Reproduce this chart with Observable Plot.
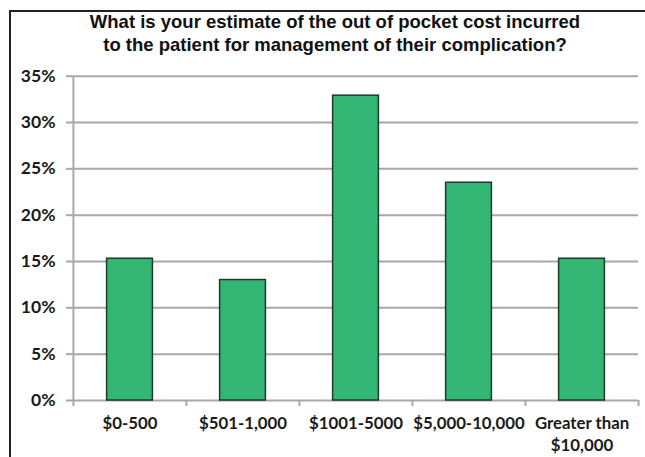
<!DOCTYPE html>
<html><head><meta charset="utf-8">
<script src="https://cdn.jsdelivr.net/npm/d3@7"></script>
<script src="https://cdn.jsdelivr.net/npm/@observablehq/plot@0.6"></script>
<style>
html,body{margin:0;padding:0;background:#fff;}
#wrap{position:relative;width:645px;height:457px;overflow:hidden;background:#fff;}
#frame{position:absolute;left:9px;top:10px;width:700px;height:500px;border-left:2px solid #222;border-top:2px solid #222;}
#title{position:absolute;left:0;top:10px;width:670px;text-align:center;font:bold 18.5px "Liberation Sans",Arial,sans-serif;line-height:23px;color:#111;}
#chart{position:absolute;left:0;top:60px;}
</style></head><body>
<div id="wrap"><div id="frame"></div><div id="title">What is your estimate of the out of pocket cost incurred<br>to the patient for management of their complication?</div><div id="chart"></div></div>
<script>
const categories = ["$0-500", "$501-1,000", "$1001-5000", "$5,000-10,000", "Greater than\n$10,000"];
const values = [0.153, 0.130, 0.329, 0.235, 0.153];
const yTicks = [0, 0.05, 0.10, 0.15, 0.20, 0.25, 0.30, 0.35];

const data = categories.map((c, i) => ({cat: c, value: values[i]}));
const W = 645, H = 397, ML = 72, MR = 7, MT = 15.7, MB = 57;
const bw = (W - ML - MR) / categories.length;
const font = "Lato, 'Open Sans', sans-serif";

const chart = Plot.plot({
  width: W, height: H,
  marginLeft: ML, marginRight: MR, marginTop: MT, marginBottom: MB,
  style: {fontFamily: font, background: "transparent"},
  x: {type: "band", domain: categories, padding: 0, axis: null},
  y: {domain: [0, 0.35], axis: null},
  marks: [
    Plot.ruleY(yTicks, {stroke: "#a8a8a8", strokeWidth: 2}),
    Plot.ruleX([categories[0]], {x: d => d, dx: -bw / 2, y1: 0, y2: 0.35, stroke: "#a8a8a8", strokeWidth: 2}),
    Plot.ruleX(categories, {x: d => d, dx: -bw / 2, y1: 0, y2: 0, dy: 3, insetTop: -3, insetBottom: -3, stroke: "#a8a8a8", strokeWidth: 2}),
    Plot.ruleX([categories[categories.length - 1]], {x: d => d, dx: bw / 2, y1: 0, y2: 0, dy: 3, insetTop: -3, insetBottom: -3, stroke: "#a8a8a8", strokeWidth: 2}),
    Plot.axisY({ticks: yTicks, tickFormat: d3.format(".0%"), label: null, tickSize: 6, tickPadding: 11, stroke: "#a8a8a8", fill: "#1a1a1a", strokeWidth: 2, fontSize: 17.5, fontWeight: "bold", fontFamily: font}),
    Plot.barY(data, {x: "cat", y: "value", fill: "#33b673", stroke: "#1e3a28", strokeWidth: 1.5, insetLeft: 33.6, insetRight: 33.6}),
    Plot.axisX({label: null, tickSize: 0, tickPadding: 13, fill: "#1a1a1a", fontSize: 16.8, fontWeight: "bold", fontFamily: font, lineHeight: 1.3})
  ]
});
document.getElementById("chart").appendChild(chart);
</script>
</body></html>
